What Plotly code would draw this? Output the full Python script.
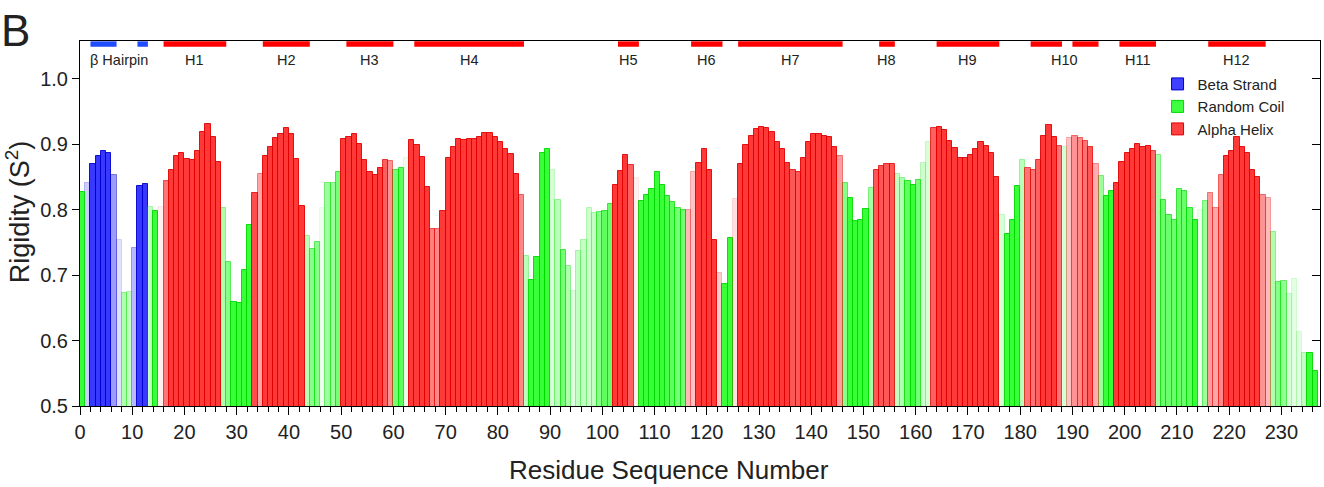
import plotly.graph_objects as go

# ---------------- data ----------------
rigidity = [
    0.826, 0.840, 0.870, 0.881, 0.889, 0.887, 0.852, 0.754, 0.673, 0.674,
    0.742, 0.836, 0.839, 0.804, 0.797, 0.804, 0.844, 0.860, 0.881, 0.887,
    0.877, 0.876, 0.889, 0.918, 0.930, 0.911, 0.872, 0.802, 0.720, 0.659,
    0.658, 0.708, 0.776, 0.825, 0.854, 0.882, 0.895, 0.909, 0.916, 0.925,
    0.916, 0.877, 0.805, 0.760, 0.740, 0.750, 0.802, 0.840, 0.840, 0.858,
    0.907, 0.911, 0.915, 0.900, 0.875, 0.858, 0.852, 0.863, 0.875, 0.874,
    0.860, 0.864, 0.879, 0.906, 0.899, 0.880, 0.835, 0.771, 0.770, 0.798,
    0.878, 0.896, 0.908, 0.906, 0.907, 0.907, 0.910, 0.917, 0.917, 0.911,
    0.903, 0.893, 0.885, 0.855, 0.822, 0.729, 0.693, 0.728, 0.886, 0.892,
    0.861, 0.815, 0.738, 0.714, 0.676, 0.737, 0.753, 0.802, 0.795, 0.796,
    0.798, 0.809, 0.837, 0.859, 0.883, 0.868, 0.848, 0.813, 0.822, 0.832,
    0.857, 0.837, 0.821, 0.812, 0.802, 0.799, 0.799, 0.858, 0.871, 0.893,
    0.861, 0.753, 0.703, 0.686, 0.757, 0.816, 0.869, 0.898, 0.913, 0.923,
    0.926, 0.925, 0.919, 0.903, 0.892, 0.871, 0.860, 0.858, 0.879, 0.903,
    0.916, 0.915, 0.912, 0.911, 0.896, 0.882, 0.841, 0.818, 0.783, 0.784,
    0.801, 0.833, 0.860, 0.866, 0.869, 0.869, 0.854, 0.848, 0.844, 0.837,
    0.845, 0.871, 0.903, 0.925, 0.926, 0.922, 0.905, 0.894, 0.878, 0.878,
    0.883, 0.893, 0.903, 0.897, 0.886, 0.849, 0.791, 0.763, 0.784, 0.836,
    0.876, 0.863, 0.861, 0.875, 0.912, 0.929, 0.910, 0.897, 0.896, 0.909,
    0.913, 0.909, 0.904, 0.896, 0.869, 0.851, 0.821, 0.828, 0.841, 0.872,
    0.886, 0.893, 0.900, 0.895, 0.897, 0.890, 0.884, 0.815, 0.792, 0.784,
    0.831, 0.828, 0.803, 0.784, 0.799, 0.813, 0.825, 0.803, 0.852, 0.882,
    0.889, 0.910, 0.896, 0.887, 0.860, 0.850, 0.822, 0.818, 0.765, 0.689,
    0.691, 0.671, 0.694, 0.613, 0.581, 0.581, 0.553,
]

# B = beta strand, C = random coil, H = alpha helix (one letter per residue)
structure = (
    "CBBBBBBBCCBBBCCH" "HHHHHHHHHHHC" "CCCCCHHHHHHHHHH" "CCCCCCCHHHHHHHHHHCCC"
    "HHHHHHHHHHHHHHHHHHHHHHCCCCCCCCCCCCCCCCCHHHHHCCCCCCCCCHHHHHHHCCH"
    "HHHHHHHHHHHHHHHHHHHHCCCCCCHHHHCCCCCCCHHHHHHHHHHHHHCCCCCHHHHHHHC"
    "HHHHHHCCCHHHHHHHHCCCCCCCCCCHHHHHHHHHHHHCCCCCCCCCCC"
)

# colour strength (confidence shading) of each bar, 0..1
intensity = [
    1.0, 0.25, 1.0, 1.0, 1.0, 1.0, 0.5, 0.15, 0.4, 0.3,
    0.35, 1.0, 1.0, 0.3, 1.0, 0.08, 0.7, 1.0, 1.0, 1.0,
    1.0, 1.0, 1.0, 1.0, 1.0, 1.0, 1.0, 0.4, 0.6, 1.0,
    1.0, 1.0, 1.0, 0.9, 0.45, 1.0, 1.0, 1.0, 1.0, 1.0,
    1.0, 1.0, 1.0, 0.35, 0.6, 0.6, 0.08, 0.5, 0.5, 0.7,
    1.0, 1.0, 1.0, 1.0, 1.0, 1.0, 1.0, 1.0, 0.8, 0.55,
    0.7, 0.8, 0.1, 1.0, 1.0, 1.0, 1.0, 0.65, 0.6, 1.0,
    1.0, 1.0, 1.0, 1.0, 1.0, 1.0, 1.0, 1.0, 1.0, 1.0,
    1.0, 1.0, 1.0, 1.0, 0.6, 0.35, 1.0, 1.0, 1.0, 1.0,
    0.2, 0.35, 0.7, 0.4, 0.15, 0.3, 0.3, 0.25, 0.3, 0.6,
    0.8, 0.75, 1.0, 1.0, 1.0, 0.8, 0.08, 1.0, 1.0, 1.0,
    1.0, 1.0, 0.9, 0.8, 0.7, 0.7, 0.35, 0.3, 1.0, 1.0,
    1.0, 1.0, 0.25, 1.0, 1.0, 0.15, 1.0, 1.0, 1.0, 1.0,
    1.0, 1.0, 1.0, 1.0, 1.0, 1.0, 0.85, 0.85, 1.0, 1.0,
    1.0, 1.0, 1.0, 1.0, 1.0, 0.5, 0.6, 1.0, 1.0, 1.0,
    1.0, 0.45, 0.85, 0.85, 0.85, 0.85, 0.3, 0.4, 0.8, 1.0,
    0.7, 0.25, 0.2, 0.8, 1.0, 1.0, 1.0, 1.0, 1.0, 1.0,
    1.0, 1.0, 1.0, 1.0, 1.0, 1.0, 0.2, 1.0, 1.0, 1.0,
    0.35, 0.7, 0.7, 0.8, 1.0, 1.0, 1.0, 0.7, 0.2, 0.3,
    0.55, 0.6, 0.7, 0.85, 0.4, 0.5, 1.0, 1.0, 1.0, 1.0,
    1.0, 1.0, 1.0, 1.0, 1.0, 0.75, 0.45, 0.75, 0.75, 0.75,
    0.75, 0.75, 0.8, 1.0, 0.1, 0.5, 0.5, 0.45, 0.6, 1.0,
    1.0, 1.0, 1.0, 1.0, 1.0, 1.0, 0.55, 0.35, 0.4, 0.6,
    0.55, 0.2, 0.15, 0.15, 0.3, 1.0, 1.0,
]

residues = list(range(len(rigidity)))

# secondary-structure segments drawn along the top of the plot
seg_start = [2, 11, 16, 35, 51, 64, 103, 117, 126, 153, 164, 182, 190, 199, 216]
seg_end = [7, 13, 28, 44, 60, 85, 107, 123, 146, 156, 176, 188, 195, 206, 227]
seg_kind = ["B", "B", "H", "H", "H", "H", "H", "H", "H", "H", "H", "H", "H", "H", "H"]
seg_label = ["β Hairpin", "β Hairpin", "H1", "H2", "H3", "H4", "H5", "H6", "H7",
             "H8", "H9", "H10", "H10", "H11", "H12"]

y_ticks = [0.5, 0.6, 0.7, 0.8, 0.9, 1.0]
x_ticks = list(range(0, 240, 10))

series_names = {"B": "Beta Strand", "C": "Random Coil", "H": "Alpha Helix"}
base_rgb = {"B": (0, 0, 255), "C": (0, 255, 0), "H": (255, 0, 0)}
edge_rgb = {"B": (0, 0, 205), "C": (0, 215, 0), "H": (225, 0, 0)}
seg_rgb = {"B": "#1f4cff", "H": "#ff0000"}

FONT = "Arial, 'Liberation Sans', sans-serif"

fig = go.Figure()

for kind in ["B", "C", "H"]:
    idx = [i for i in residues if structure[i] == kind]
    r, g, b = base_rgb[kind]
    er, eg, eb = edge_rgb[kind]
    fills = [f"rgba({r},{g},{b},{0.78 * intensity[i]:.3f})" for i in idx]
    lines = [f"rgba({er},{eg},{eb},{0.9 * intensity[i]:.3f})" for i in idx]
    fig.add_trace(go.Bar(
        x=[residues[i] for i in idx],
        y=[rigidity[i] for i in idx],
        width=1, offset=0,
        marker=dict(color=fills, line=dict(color=lines, width=1)),
        name=series_names[kind], showlegend=False,
        hovertemplate="Residue %{x}<br>S² %{y}<extra>" + series_names[kind] + "</extra>",
    ))

# legend entries
for kind in ["B", "C", "H"]:
    r, g, b = base_rgb[kind]
    er, eg, eb = edge_rgb[kind]
    fig.add_trace(go.Bar(
        x=[None], y=[None], name=series_names[kind],
        marker=dict(color=f"rgba({r},{g},{b},0.75)",
                    line=dict(color=f"rgb({er},{eg},{eb})", width=1)),
    ))

# trace holding the right-hand mirrored axis
fig.add_trace(go.Scatter(x=[None], y=[None], yaxis="y2", showlegend=False,
                         hoverinfo="skip"))

Y_TOP = 1.0573
for s, e, k in zip(seg_start, seg_end, seg_kind):
    fig.add_shape(type="rect", xref="x", yref="y", x0=s, x1=e,
                  y0=Y_TOP - 0.0088, y1=Y_TOP - 0.0005,
                  fillcolor=seg_rgb[k], line=dict(width=0), layer="above")

# labels centred on their segment group(s)
groups = {}
for s, e, lab in zip(seg_start, seg_end, seg_label):
    lo, hi = groups.get(lab, (s, e))
    groups[lab] = (min(lo, s), max(hi, e))
for lab, (lo, hi) in groups.items():
    fig.add_annotation(x=(lo + hi) / 2, y=1.028, xref="x", yref="y", text=lab,
                       showarrow=False, font=dict(family=FONT, size=14.5, color="#222"))

fig.add_annotation(x=-0.0524, y=1.03, xref="paper", yref="paper", text="B",
                   showarrow=False, xanchor="center", yanchor="middle",
                   font=dict(family=FONT, size=44, color="#222"))

# axis titles (placed as in the reference)
fig.add_annotation(x=0.475, y=-0.175, xref="paper", yref="paper",
                   text="Residue Sequence Number", showarrow=False,
                   xanchor="center", yanchor="middle",
                   font=dict(family=FONT, size=26, color="#222"))
fig.add_annotation(x=-0.0505, y=0.532, xref="paper", yref="paper",
                   text="Rigidity (S<sup>2</sup>)", showarrow=False, textangle=-90,
                   xanchor="center", yanchor="middle",
                   font=dict(family=FONT, size=27, color="#222"))

fig.update_layout(
    width=1324, height=487,
    margin=dict(l=80, r=4, t=41, b=81),
    paper_bgcolor="white", plot_bgcolor="white",
    barmode="overlay", bargap=0,
    font=dict(family=FONT, color="#222"),
    xaxis=dict(
        range=[0, 237.4], tickvals=x_ticks, ticks="outside", ticklen=8,
        tickwidth=1, tickcolor="black", showline=True, linecolor="black",
        linewidth=1, mirror=True, showgrid=False, zeroline=False,
        tickfont=dict(family=FONT, size=20, color="#222"),
        minor=dict(dtick=2, ticks="outside", ticklen=5, tickcolor="black"),
    ),
    yaxis=dict(
        range=[0.5, Y_TOP], tickvals=y_ticks, ticktext=[f"{v:.1f}" for v in y_ticks],
        ticks="outside", ticklen=7, tickwidth=1, tickcolor="black",
        showline=True, linecolor="black", linewidth=1, mirror=True,
        showgrid=False, zeroline=False,
        tickfont=dict(family=FONT, size=20, color="#222"),
    ),
    yaxis2=dict(
        overlaying="y", side="right", range=[0.5, Y_TOP], tickvals=y_ticks,
        ticks="inside", ticklen=8, tickcolor="black", showticklabels=False,
        showline=True, linecolor="black", showgrid=False, zeroline=False,
    ),
    legend=dict(x=0.869, y=0.927, xanchor="left", yanchor="top",
                bgcolor="rgba(0,0,0,0)", font=dict(family=FONT, size=15, color="#222"),
                traceorder="normal", itemwidth=30),
)

fig.write_html("out.html", config={"displayModeBar": False},
               post_script="document.body.style.margin='0px';document.body.style.overflow='hidden';")
